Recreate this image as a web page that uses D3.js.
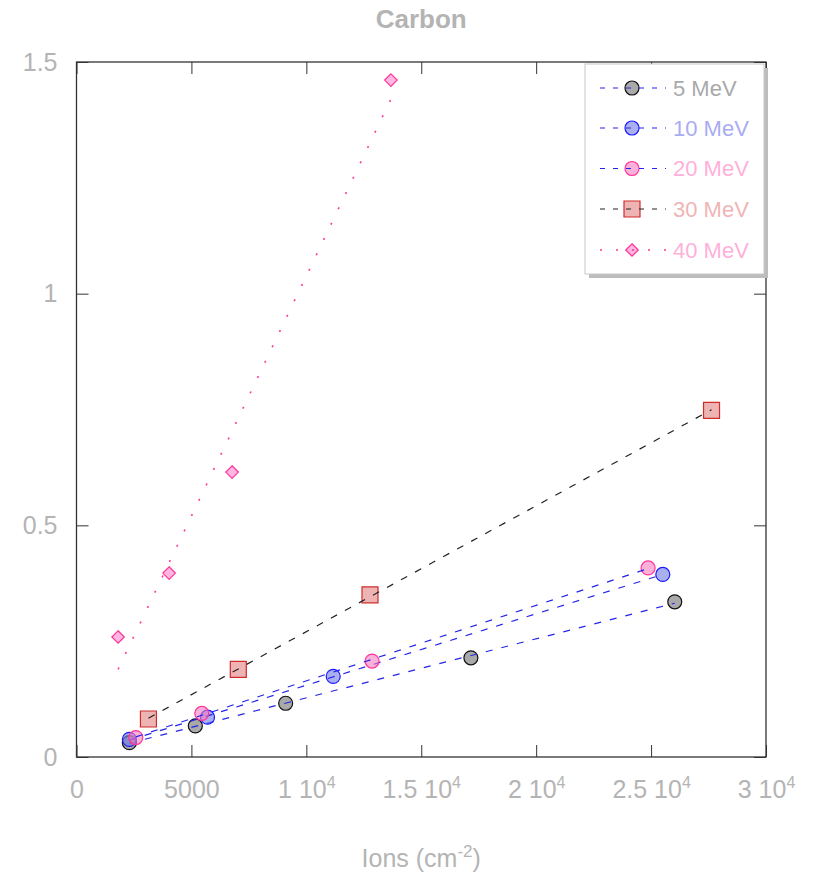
<!DOCTYPE html>
<html>
<head>
<meta charset="utf-8">
<script src="https://cdn.jsdelivr.net/npm/d3@7"></script>
<style>
  body { margin: 0; background: #fff; }
  text { font-family: "Liberation Sans", Arial, sans-serif; }
</style>
</head>
<body>
<div id="chart"></div>
<script>
// --- data ---
const seriesNames = ["5 MeV", "10 MeV", "20 MeV", "30 MeV", "40 MeV"];

const ions5  = [2300, 5170, 9100, 17160, 26030];
const val5   = [0.031, 0.067, 0.116, 0.214, 0.335];

const ions10 = [2300, 5700, 11170, 25510];
const val10  = [0.038, 0.086, 0.174, 0.394];

const ions20 = [2580, 5450, 12860, 24870];
const val20  = [0.042, 0.094, 0.207, 0.408];

const ions30 = [3130, 7040, 12770, 27630];
const val30  = [0.082, 0.189, 0.350, 0.748];

const ions40 = [1810, 4030, 6770, 13680];
const val40  = [0.259, 0.397, 0.615, 1.461];

const xTicks = [0, 5000, 10000, 15000, 20000, 25000, 30000];
const xTickBase = ["0", "5000", "1 10", "1.5 10", "2 10", "2.5 10", "3 10"];
const xTickExp  = ["", "", "4", "4", "4", "4", "4"];
const yTicks = [0, 0.5, 1, 1.5];
const yTickLabels = ["0", "0.5", "1", "1.5"];

// --- styles per series ---
const styles = [
    { shape: "circle",  fill: "#707070", stroke: "#111",    line: "#2424e8", dash: "7,9",  text: "#a9a9a9" },
    { shape: "circle",  fill: "#717be3", stroke: "#1a1aff", line: "#2424e8", dash: "7,9",  text: "#a8acf2" },
    { shape: "circle",  fill: "#f57bc0", stroke: "#ff3399", line: "#2424e8", dash: "7,9",  text: "#ffb0da" },
    { shape: "square",  fill: "#e38282", stroke: "#d02c2c", line: "#222",    dash: "7,9",  text: "#efb5b5" },
    { shape: "diamond", fill: "#ff85cb", stroke: "#ff3399", line: "#ff3399", dash: "2,15", text: "#ffb0da" }
];

const series = [
    { name: seriesNames[0], x: ions5,  y: val5 },
    { name: seriesNames[1], x: ions10, y: val10 },
    { name: seriesNames[2], x: ions20, y: val20 },
    { name: seriesNames[3], x: ions30, y: val30 },
    { name: seriesNames[4], x: ions40, y: val40 }
];

const svgWidth = 815, svgHeight = 877;
const margin = { top: 62, right: 49, bottom: 120, left: 76.5 };
const width = svgWidth - margin.left - margin.right;
const height = svgHeight - margin.top - margin.bottom;
const labelGrey = "#b4b4b4";

const svg = d3.select("#chart").append("svg")
    .attr("width", svgWidth)
    .attr("height", svgHeight);

const plotArea = svg.append("g")
    .attr("transform", `translate(${margin.left},${margin.top})`);

const xscale = d3.scaleLinear().domain([0, 30000]).range([0, width]);
const yscale = d3.scaleLinear().domain([0, 1.5]).range([height, 0]);

// least squares fit, as drawn by the original plotting program
function linFit(xs, ys) {
    const mx = d3.mean(xs), my = d3.mean(ys);
    let sxy = 0, sxx = 0;
    xs.forEach((x, i) => { sxy += (x - mx) * (ys[i] - my); sxx += (x - mx) * (x - mx); });
    const slope = sxy / sxx;
    return { slope: slope, intercept: my - slope * mx };
}

function markerPath(shape) {
    if (shape === "circle") return d3.symbol(d3.symbolCircle, 154)();
    if (shape === "square") return d3.symbol(d3.symbolSquare, 256)();
    return d3.symbol(d3.symbolDiamond2, 100)();
}

// --- marks ---
series.forEach((s, i) => {
    const st = styles[i];
    const pts = s.x.map((x, j) => ({ x: x, y: s.y[j] }));

    plotArea.append("g").selectAll("path")
        .data(pts)
        .join("path")
        .attr("d", markerPath(st.shape))
        .attr("transform", d => `translate(${xscale(d.x)},${yscale(d.y)})`)
        .attr("fill", st.fill)
        .attr("fill-opacity", 0.6)
        .attr("stroke", st.stroke)
        .attr("stroke-width", 1.2);

    const fit = linFit(s.x, s.y);
    const ext = d3.extent(s.x);
    const fitPts = ext.map(x => ({ x: x, y: fit.intercept + fit.slope * x }));

    plotArea.append("path")
        .datum(fitPts)
        .attr("fill", "none")
        .attr("stroke", st.line)
        .attr("stroke-width", i === 4 ? 1.6 : 1.2)
        .attr("stroke-dasharray", st.dash)
        .attr("d", d3.line().x(d => xscale(d.x)).y(d => yscale(d.y)));
});

// --- axes (inward ticks on all four sides) ---
const gX = plotArea.append("g")
    .attr("transform", `translate(0,${height})`)
    .call(d3.axisBottom(xscale).tickValues(xTicks).tickSize(-12).tickPadding(23));
gX.selectAll(".tick text").each(function(d, i) {
    const t = d3.select(this).text(null);
    t.append("tspan").text(xTickBase[i]);
    if (xTickExp[i]) {
        t.append("tspan").attr("dy", "-10").attr("font-size", 16).text(xTickExp[i]);
    }
});

const gY = plotArea.append("g")
    .call(d3.axisLeft(yscale).tickValues(yTicks).tickSize(-12).tickPadding(19)
        .tickFormat((d, i) => yTickLabels[i]));

plotArea.append("g")
    .call(d3.axisTop(xscale).tickValues(xTicks).tickSize(-12).tickFormat(""));
plotArea.append("g")
    .attr("transform", `translate(${width},0)`)
    .call(d3.axisRight(yscale).tickValues(yTicks).tickSize(-12).tickFormat(""));

plotArea.selectAll(".domain").remove();
plotArea.selectAll(".tick line").attr("stroke", "#333");
plotArea.selectAll(".tick text")
    .attr("fill", labelGrey)
    .attr("font-size", 25)
    .attr("font-family", "Liberation Sans, Arial, sans-serif");

// frame
plotArea.append("rect")
    .attr("width", width)
    .attr("height", height)
    .attr("fill", "none")
    .attr("stroke", "#333")
    .attr("stroke-width", 1.3);

// --- legend ---
const legend = svg.append("g").attr("transform", "translate(585,64)");
legend.append("rect")
    .attr("x", 4).attr("y", 4)
    .attr("width", 179).attr("height", 210)
    .attr("fill", "#bdbdbd");
legend.append("rect")
    .attr("width", 179).attr("height", 210)
    .attr("fill", "#fff")
    .attr("stroke", "#c8c8c8")
    .attr("stroke-width", 1);

const rowY = [24, 64, 104.5, 145, 186];
seriesNames.forEach((name, i) => {
    const st = styles[i];
    const row = legend.append("g").attr("transform", `translate(0,${rowY[i]})`);
    row.append("path")
        .attr("d", markerPath(st.shape))
        .attr("transform", "translate(47,0)")
        .attr("fill", st.fill)
        .attr("fill-opacity", 0.6)
        .attr("stroke", st.stroke)
        .attr("stroke-width", 1.2);
    row.append("line")
        .attr("x1", 15).attr("x2", 81)
        .attr("stroke", st.line)
        .attr("stroke-width", i === 4 ? 1.6 : 1.2)
        .attr("stroke-dasharray", i === 4 ? "2,14" : "5,8");
    row.append("text")
        .attr("x", 88)
        .attr("dy", "0.36em")
        .attr("font-size", 22)
        .attr("fill", st.text)
        .text(name);
});

// --- titles ---
svg.append("text")
    .attr("x", margin.left + width / 2)
    .attr("y", 28)
    .attr("text-anchor", "middle")
    .attr("font-size", 26)
    .attr("font-weight", "bold")
    .attr("fill", labelGrey)
    .text("Carbon");

const xLabel = svg.append("text")
    .attr("x", margin.left + width / 2)
    .attr("y", 867)
    .attr("text-anchor", "middle")
    .attr("font-size", 25)
    .attr("fill", labelGrey);
xLabel.append("tspan").text("Ions (cm");
xLabel.append("tspan").attr("dy", -10).attr("font-size", 17).text("-2");
xLabel.append("tspan").attr("dy", 10).text(")");
</script>
</body>
</html>
